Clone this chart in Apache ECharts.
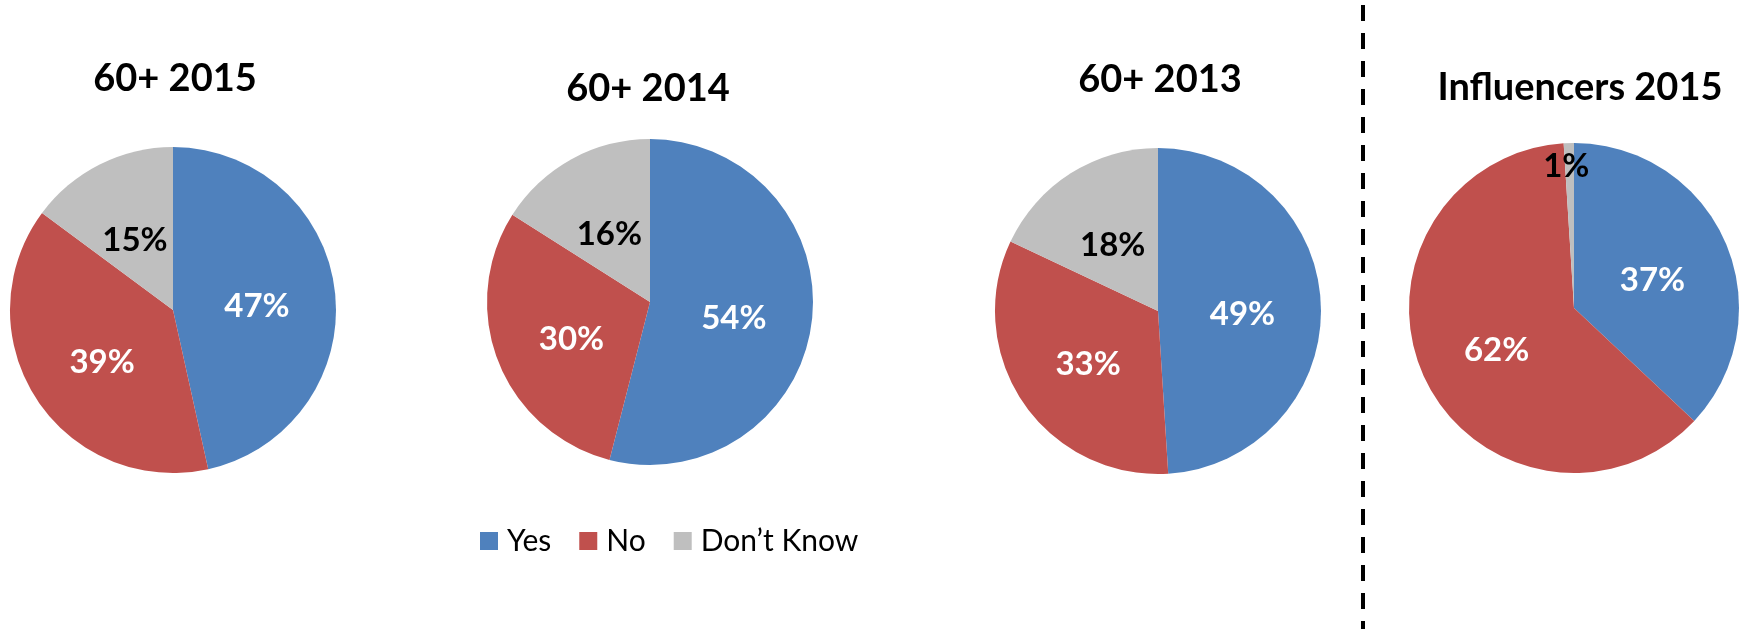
<!DOCTYPE html>
<html>
<head>
<meta charset="utf-8">
<script src="https://cdn.jsdelivr.net/npm/echarts@6/dist/echarts.min.js"></script>
<style>
html,body{margin:0;padding:0;background:#fff;}
#chart{width:1748px;height:629px;}
</style>
</head>
<body>
<div id="chart"></div>
<script>
// ---- data ----
const categories = ['Yes', 'No', 'Don\u2019t Know'];
const chartTitles = ['60+ 2015', '60+ 2014', '60+ 2013', 'Influencers 2015'];
const values60_2015 = [47, 39, 15];
const values60_2014 = [54, 30, 16];
const values60_2013 = [49, 33, 18];
const valuesInfluencers2015 = [37, 62, 1];

// ---- styles / layout ----
const colors = ['#4F81BD', '#C0504D', '#BFBFBF'];
const labelColors = ['#ffffff', '#ffffff', '#000000'];
const FONT = 'Lato, "Open Sans", sans-serif';
const pieLayout = [
  { center: [173, 310], radius: 163, titleX: 175, titleY: 60 },
  { center: [650, 302], radius: 163, titleX: 648, titleY: 70 },
  { center: [1158, 311], radius: 163, titleX: 1160, titleY: 61 },
  { center: [1574, 308], radius: 165, titleX: 1580, titleY: 69 }
];
const allValues = [values60_2015, values60_2014, values60_2013, valuesInfluencers2015];

function buildData(vals, pieIdx) {
  return vals.map((v, i) => {
    const item = { value: v, name: categories[i], label: { color: labelColors[i] } };
    if (pieIdx === 3 && i === 2) {
      item.label.offset = [-5, -56];
    }
    return item;
  });
}

const chart = echarts.init(document.getElementById('chart'), null, { renderer: 'canvas' });

const option = {
  animation: false,
  color: colors,
  title: chartTitles.map((t, i) => ({
    text: t,
    left: pieLayout[i].titleX,
    top: pieLayout[i].titleY,
    textAlign: 'center',
    padding: 0,
    textStyle: { fontFamily: FONT, fontSize: 38, fontWeight: 'bold', color: '#000', lineHeight: 38 }
  })),
  legend: {
    data: categories,
    left: 480,
    top: 526,
    padding: 0,
    itemWidth: 18,
    itemHeight: 18,
    itemGap: 28,
    icon: 'rect',
    selectedMode: false,
    textStyle: { fontFamily: FONT, fontSize: 30, color: '#000', lineHeight: 30, padding: [0, 0, 0, 4] }
  },
  graphic: [{
    type: 'line',
    shape: { x1: 1363, y1: 5, x2: 1363, y2: 629 },
    style: { stroke: '#000', lineWidth: 4, lineDash: [16, 12] }
  }],
  series: allValues.map((vals, i) => ({
    type: 'pie',
    center: pieLayout[i].center,
    radius: pieLayout[i].radius,
    startAngle: 90,
    clockwise: true,
    avoidLabelOverlap: false,
    emphasis: { disabled: true },
    itemStyle: { borderWidth: 0 },
    label: {
      show: true,
      position: 'inside',
      formatter: '{c}%',
      fontFamily: FONT,
      fontSize: 33,
      fontWeight: 'bold',
      offset: [0, 6]
    },
    labelLine: { show: false },
    data: buildData(vals, i)
  }))
};
chart.setOption(option);
</script>
</body>
</html>
